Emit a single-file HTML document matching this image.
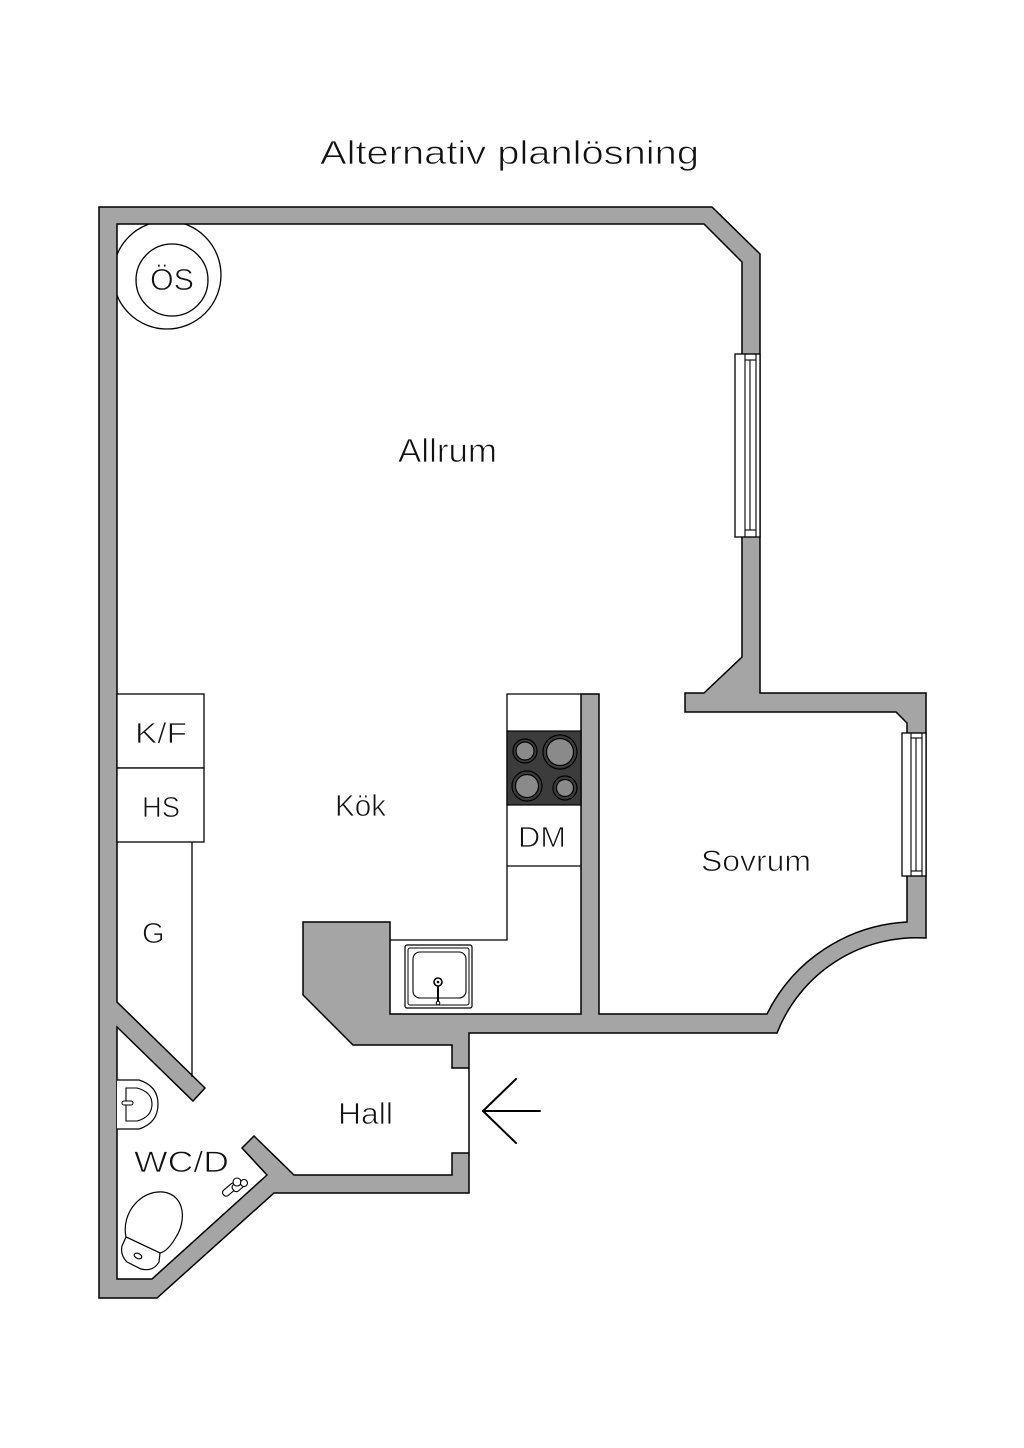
<!DOCTYPE html>
<html>
<head>
<meta charset="utf-8">
<style>
  html, body { margin: 0; padding: 0; background: #ffffff; }
  svg { display: block; }
  text { font-family: "Liberation Sans", "DejaVu Sans", sans-serif; fill: #111; stroke: #ffffff; stroke-width: 0.8px; paint-order: normal; }
</style>
</head>
<body>
<svg width="1024" height="1448" viewBox="0 0 1024 1448" xmlns="http://www.w3.org/2000/svg">
  <rect x="0" y="0" width="1024" height="1448" fill="#ffffff"/>

  <!-- Title -->
  <text x="320" y="164" font-size="33" textLength="379" lengthAdjust="spacingAndGlyphs">Alternativ planlösning</text>

  <defs>
    <clipPath id="roomclip">
      <rect x="117" y="224" width="300" height="300"/>
    </clipPath>
  </defs>

  <!-- ÖS circles -->
  <circle cx="167" cy="275" r="54" fill="none" stroke="#000" stroke-width="1.3" clip-path="url(#roomclip)"/>
  <circle cx="172" cy="280" r="36" fill="none" stroke="#000" stroke-width="1.3"/>
  <text x="150" y="290" font-size="31" textLength="44" lengthAdjust="spacingAndGlyphs">ÖS</text>

  <!-- Walls -->
  <path fill="#a5a5a5" stroke="#000" stroke-width="1.5" fill-rule="evenodd" stroke-linejoin="miter"
    d="M99,207 L712,207 L760,254 L760,693 L926,693 L926,938 A150,150 0 0 0 777,1033 L469,1033 L469,1193 L274,1193 L157,1298 L99,1298 Z
       M117,224 L704,224 L742,262 L742,657 L704,693 L685,693 L685,712 L896,712 L907,723 L907,922 A166,166 0 0 0 767,1014 L599,1014 L599,694 L581,694 L581,1014 L390,1014 L390,922 L303,922 L303,995 L353,1045 L452,1045 L452,1068 L469,1068 L469,1153 L452,1153 L452,1175 L294,1175 L254,1136 L242,1148 L267,1175 L152,1279 L117,1279 L117,1027 L193,1101 L205,1088 L117,1002 Z"/>

  <!-- Allrum window -->
  <rect x="735" y="354" width="25" height="183" fill="#fff" stroke="#000" stroke-width="1.3"/>
  <rect x="745" y="354" width="11" height="183" fill="none" stroke="#000" stroke-width="1.1"/>
  <line x1="750" y1="360" x2="750" y2="530" stroke="#000" stroke-width="1.1"/>
  <line x1="745" y1="360" x2="756" y2="360" stroke="#000" stroke-width="1.1"/>
  <line x1="745" y1="530" x2="756" y2="530" stroke="#000" stroke-width="1.1"/>

  <!-- Sovrum window -->
  <rect x="902" y="733" width="24" height="143" fill="#fff" stroke="#000" stroke-width="1.3"/>
  <rect x="911" y="733" width="11" height="143" fill="none" stroke="#000" stroke-width="1.1"/>
  <line x1="916" y1="738" x2="916" y2="871" stroke="#000" stroke-width="1.1"/>
  <line x1="911" y1="738" x2="922" y2="738" stroke="#000" stroke-width="1.1"/>
  <line x1="911" y1="871" x2="922" y2="871" stroke="#000" stroke-width="1.1"/>

  <!-- Left cabinets -->
  <rect x="117" y="694" width="87" height="74" fill="#fff" stroke="#000" stroke-width="1.3"/>
  <rect x="117" y="768" width="87" height="74" fill="#fff" stroke="#000" stroke-width="1.3"/>
  <line x1="192" y1="842" x2="192" y2="1077" stroke="#000" stroke-width="1.3"/>
  <text x="135" y="743" font-size="29" textLength="52" lengthAdjust="spacingAndGlyphs">K/F</text>
  <text x="142" y="817" font-size="29" textLength="38" lengthAdjust="spacingAndGlyphs">HS</text>
  <text x="142" y="943" font-size="29">G</text>

  <!-- Kitchen counter -->
  <path d="M581,694 L507,694 L507,940 L390,940" fill="none" stroke="#000" stroke-width="1.3"/>
  <rect x="507" y="731" width="74" height="74" fill="#3c3c3c" stroke="#000" stroke-width="1.2"/>
  <line x1="507" y1="866" x2="581" y2="866" stroke="#000" stroke-width="1.3"/>
  <!-- burners -->
  <g stroke="#000" stroke-width="1.2">
    <circle cx="525" cy="751" r="12" fill="#3c3c3c"/>
    <circle cx="525" cy="751" r="9" fill="#8a8a8a"/>
    <circle cx="560" cy="752" r="17" fill="#3c3c3c"/>
    <circle cx="560" cy="752" r="13.5" fill="#8a8a8a"/>
    <circle cx="527" cy="786" r="15" fill="#3c3c3c"/>
    <circle cx="527" cy="786" r="11.5" fill="#8a8a8a"/>
    <circle cx="565" cy="788" r="12" fill="#3c3c3c"/>
    <circle cx="565" cy="788" r="8.5" fill="#8a8a8a"/>
  </g>
  <text x="518" y="847" font-size="29" textLength="48" lengthAdjust="spacingAndGlyphs">DM</text>

  <!-- Kitchen sink -->
  <rect x="405" y="945" width="67" height="63" rx="2" fill="#fff" stroke="#000" stroke-width="1.2"/>
  <rect x="408" y="948" width="61" height="57" rx="2" fill="none" stroke="#000" stroke-width="1"/>
  <rect x="413" y="952" width="53" height="46" rx="7" fill="none" stroke="#000" stroke-width="1.1"/>
  <line x1="438" y1="982" x2="438" y2="1002" stroke="#000" stroke-width="2"/>
  <circle cx="438" cy="982" r="4" fill="#fff" stroke="#000" stroke-width="1.6"/>
  <circle cx="438" cy="982" r="1.3" fill="#000"/>
  <circle cx="438" cy="1003" r="1.8" fill="#fff" stroke="#000" stroke-width="1"/>

  <!-- Room labels -->
  <text x="398" y="462" font-size="33" textLength="99" lengthAdjust="spacingAndGlyphs">Allrum</text>
  <text x="335" y="816" font-size="31" textLength="51" lengthAdjust="spacingAndGlyphs">Kök</text>
  <text x="701" y="871" font-size="30" textLength="110" lengthAdjust="spacingAndGlyphs">Sovrum</text>
  <text x="338" y="1124" font-size="31" textLength="55" lengthAdjust="spacingAndGlyphs">Hall</text>
  <text x="134" y="1172" font-size="30" textLength="95" lengthAdjust="spacingAndGlyphs">WC/D</text>

  <!-- Entrance arrow -->
  <g stroke="#000" stroke-width="2" fill="none" stroke-linecap="round">
    <line x1="483" y1="1111" x2="540" y2="1111"/>
    <line x1="483" y1="1111" x2="516" y2="1079"/>
    <line x1="483" y1="1111" x2="516" y2="1143"/>
  </g>

  <!-- WC sink -->
  <path d="M117,1080 L139,1080 Q158,1086 158,1104 Q158,1123 139,1129 L117,1129" fill="#fff" stroke="#000" stroke-width="1.2"/>
  <path d="M126,1088 L137,1088 Q152,1092 152,1104 Q152,1117 137,1121 L126,1121 Z" fill="none" stroke="#000" stroke-width="1.1"/>
  <rect x="122" y="1101" width="11" height="4" rx="2" fill="#fff" stroke="#000" stroke-width="1"/>

  <!-- Toilet -->
  <g fill="#fff" stroke="#000" stroke-width="1.2">
    <path d="M126,1237 C121,1214 140,1190 163,1192 C186,1195 186,1222 176,1237 C171,1246 165,1252 160,1253 Z"/>
    <path d="M126,1237 L160,1253 L159,1262 Q153,1272 141,1269 L127,1262 Q120,1255 122,1246 Z"/>
    <ellipse cx="138" cy="1256" rx="4" ry="2.5" transform="rotate(25 138 1256)"/>
  </g>

  <!-- small fixture in WC -->
  <g fill="#fff" stroke="#000" stroke-width="1.1">
    <rect x="222" y="1186" width="16" height="7" rx="3" transform="rotate(-40 230 1190)"/>
    <rect x="232" y="1182" width="12" height="8" rx="3" transform="rotate(-40 238 1186)"/>
    <circle cx="237" cy="1182" r="4"/>
    <circle cx="244" cy="1183" r="3.5"/>
  </g>
</svg>
</body>
</html>
